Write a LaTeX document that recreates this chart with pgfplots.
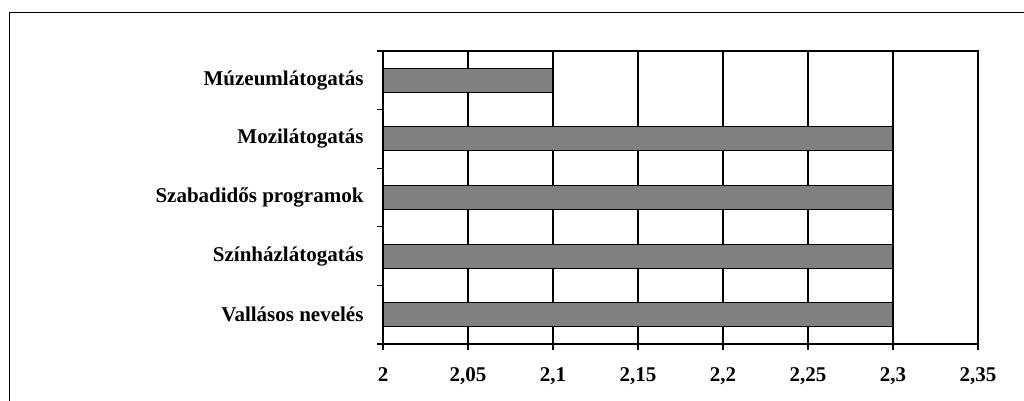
\documentclass[border=0pt]{standalone}
\usepackage{fontspec}
\setmainfont{Liberation Serif}
\usepackage{pgfplots}
\pgfplotsset{compat=1.18}
\begin{document}
\begin{tikzpicture}
\path[use as bounding box] (0,0) rectangle (1024pt,401pt);
% outer frame (cut off at right and bottom)
\draw[line width=1.5pt] (9.3pt,0pt) -- (9.3pt,388.3pt) -- (1030pt,388.3pt);
\begin{axis}[
    at={(383pt,57pt)}, anchor=south west,
    scale only axis,
    width=595pt, height=293pt,
    xbar,
    bar width=0.41,
    xmin=2, xmax=2.35,
    ymin=-0.5, ymax=4.5,
    xtick={2,2.05,2.1,2.15,2.2,2.25,2.3,2.35},
    xticklabels={\textbf{2},{\textbf{2,05}},{\textbf{2,1}},{\textbf{2,15}},{\textbf{2,2}},{\textbf{2,25}},{\textbf{2,3}},{\textbf{2,35}}},
    ytick={-0.5,0.5,1.5,2.5,3.5,4.5},
    yticklabels={},
    extra y ticks={0,1,2,3,4},
    extra y tick labels={Vallásos nevelés,Színházlátogatás,Szabadidős programok,Mozilátogatás,Múzeumlátogatás},
    extra y tick style={major tick length=0pt, yticklabel style={xshift=-16pt}},
    xtick pos=lower, ytick pos=left,
    tick align=outside,
    major tick length=6pt,
    tick style={black, line width=1.2pt},
    xmajorgrids,
    major grid style={black, line width=1.3pt},
    axis line style={black, line width=1.3pt},
    ticklabel style={font=\bfseries\fontsize{21}{25}\selectfont, text=black},
    xticklabel style={yshift=-14pt},
    clip=true,
]
\addplot[fill=black!50, draw=black, line width=1.1pt] coordinates {
    (2.3,0) (2.3,1) (2.3,2) (2.3,3) (2.1,4)
};
\end{axis}
\end{tikzpicture}
\end{document}
